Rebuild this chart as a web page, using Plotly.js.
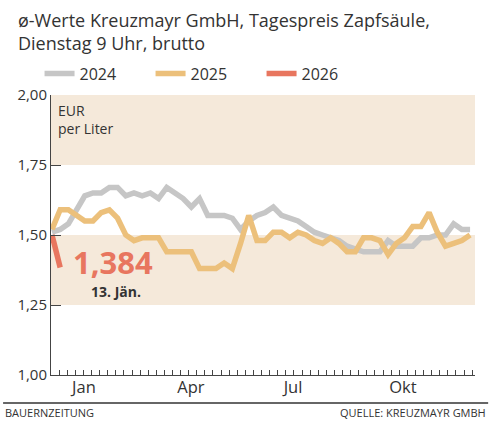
<!DOCTYPE html>
<html>
<head>
<meta charset="utf-8">
<script src="https://cdn.plot.ly/plotly-3.0.1.min.js"></script>
<style>
  html, body { margin: 0; padding: 0; background: #fff; }
  #chart { width: 503px; height: 422px; }
</style>
</head>
<body>
<div id="chart"></div>
<script>
// ---- data ----
const series2024 = [1.51, 1.52, 1.54, 1.59, 1.64, 1.65, 1.65, 1.67, 1.67, 1.64,
  1.65, 1.64, 1.65, 1.63, 1.67, 1.65, 1.63, 1.60, 1.63, 1.57,
  1.57, 1.57, 1.56, 1.52, 1.55, 1.57, 1.58, 1.60, 1.57, 1.56,
  1.55, 1.53, 1.51, 1.50, 1.49, 1.48, 1.46, 1.45, 1.44, 1.44,
  1.44, 1.48, 1.46, 1.46, 1.46, 1.49, 1.49, 1.50, 1.50, 1.54,
  1.52, 1.52];
const series2025 = [1.52, 1.59, 1.59, 1.57, 1.55, 1.55, 1.58, 1.59, 1.56, 1.50,
  1.48, 1.49, 1.49, 1.49, 1.44, 1.44, 1.44, 1.44, 1.38, 1.38,
  1.38, 1.40, 1.38, 1.47, 1.57, 1.48, 1.48, 1.51, 1.51, 1.49,
  1.51, 1.50, 1.48, 1.47, 1.49, 1.47, 1.44, 1.44, 1.49, 1.49,
  1.48, 1.43, 1.47, 1.49, 1.53, 1.53, 1.58, 1.51, 1.46, 1.47,
  1.48, 1.50];
const series2026 = [1.50, 1.384];
const weeks2026 = [0, 1];
const seriesNames = ['2024', '2025', '2026'];
const lastLabelDate = '13. Jän.';
const yTickVals = [1.00, 1.25, 1.50, 1.75, 2.00];
const monthLabels = ['Jan', 'Apr', 'Jul', 'Okt'];
const monthLabelPos = [3.9, 16.95, 29.4, 42.8];
const bands = [[1.25, 1.50], [1.75, 2.00]];
const unitLabel = 'EUR<br>per Liter';
const titleText = 'ø-Werte Kreuzmayr GmbH, Tagespreis Zapfsäule,<br>Dienstag 9 Uhr, brutto';
const footerLeft = 'BAUERNZEITUNG';
const footerRight = 'QUELLE: KREUZMAYR GMBH';

const weeks = series2024.map((_, i) => i);
const colors = ['#c6c6c6', '#ecc07b', '#e8765f'];
const textColor = '#333333';
const axisColor = '#444444';
const font = 'Open Sans, Noto Sans, sans-serif';

const traces = [
  { x: weeks, y: series2024, name: seriesNames[0] },
  { x: weeks, y: series2025, name: seriesNames[1] },
  { x: weeks2026, y: series2026, name: seriesNames[2] }
].map((t, i) => Object.assign(t, {
  type: 'scatter', mode: 'lines',
  line: { color: colors[i], width: 5.5, shape: 'linear' },
  xaxis: 'x', yaxis: 'y', hoverinfo: 'skip'
}));

// invisible trace to carry the month-label axis
traces.push({ x: [monthLabelPos[0]], y: [1.5], xaxis: 'x2', yaxis: 'y',
  mode: 'markers', marker: { opacity: 0 }, showlegend: false, hoverinfo: 'skip' });

const xRange = [-0.12, 51.6];
const lastVal = series2026[series2026.length - 1];

const shapes = bands.map(b => ({
  type: 'rect', xref: 'paper', yref: 'y', x0: 0, x1: 1, y0: b[0], y1: b[1],
  fillcolor: '#f5e9da', line: { width: 0 }, layer: 'below'
}));
shapes.push({ type: 'line', xref: 'paper', yref: 'paper',
  x0: -0.113, x1: 1.031, y0: -0.1, y1: -0.1,
  line: { color: textColor, width: 1.5 } });

const layout = {
  width: 503, height: 422,
  margin: { l: 51, r: 28, t: 95, b: 47, pad: 0 },
  paper_bgcolor: '#ffffff', plot_bgcolor: 'rgba(0,0,0,0)',
  separators: ',.',
  font: { family: font, color: textColor },
  showlegend: true,
  legend: {
    orientation: 'h', xref: 'paper', yref: 'paper',
    x: -0.027, xanchor: 'left', y: 1.076, yanchor: 'middle',
    entrywidth: 66, entrywidthmode: 'pixels',
    font: { size: 16, color: textColor, family: font },
    bgcolor: 'rgba(0,0,0,0)', traceorder: 'normal', itemclick: false
  },
  xaxis: {
    range: xRange, showgrid: false, zeroline: false,
    showline: true, linecolor: axisColor, linewidth: 1,
    ticks: 'inside', ticklen: 5, tickcolor: axisColor, tickwidth: 1,
    tickmode: 'linear', tick0: -0.12, dtick: 0.988,
    showticklabels: false, fixedrange: true
  },
  xaxis2: {
    range: xRange, overlaying: 'x', anchor: 'y', side: 'bottom',
    showgrid: false, zeroline: false, showline: false, ticks: '',
    tickmode: 'array', tickvals: monthLabelPos, ticktext: monthLabels,
    tickfont: { size: 16.5, color: textColor, family: font }, fixedrange: true
  },
  yaxis: {
    range: [1.0, 2.0], showgrid: false, zeroline: false,
    showline: true, linecolor: axisColor, linewidth: 1,
    ticks: 'inside', ticklen: 10, tickcolor: axisColor, tickwidth: 1,
    tickmode: 'array', tickvals: yTickVals, tickformat: '.2f',
    tickfont: { size: 15, color: textColor, family: font }, fixedrange: true
  },
  shapes: shapes,
  annotations: [
    { xref: 'paper', yref: 'paper', x: -0.083, y: 1.318, xanchor: 'left', yanchor: 'top',
      text: titleText, showarrow: false, align: 'left',
      font: { size: 18, color: textColor, family: font } },
    { xref: 'paper', yref: 'paper', x: 0.012, y: 0.985, xanchor: 'left', yanchor: 'top',
      text: unitLabel, showarrow: false, align: 'left',
      font: { size: 14, color: textColor, family: font } },
    { xref: 'x', yref: 'y', x: 2.35, y: lastVal + 0.018, xanchor: 'left', yanchor: 'middle',
      text: '<b>' + lastVal.toFixed(3).replace('.', ',') + '</b>', showarrow: false,
      font: { size: 31, color: colors[2], family: font } },
    { xref: 'x', yref: 'y', x: 7.8, y: 1.298, xanchor: 'center', yanchor: 'middle',
      text: '<b>' + lastLabelDate + '</b>', showarrow: false,
      font: { size: 14, color: textColor, family: font } },
    { xref: 'paper', yref: 'paper', x: -0.113, y: -0.135, xanchor: 'left', yanchor: 'middle',
      text: footerLeft, showarrow: false,
      font: { size: 11, color: textColor, family: font } },
    { xref: 'paper', yref: 'paper', x: 1.031, y: -0.135, xanchor: 'right', yanchor: 'middle',
      text: footerRight, showarrow: false,
      font: { size: 11, color: textColor, family: font } }
  ]
};

Plotly.newPlot('chart', traces, layout, { displayModeBar: false, staticPlot: true });
</script>
</body>
</html>
